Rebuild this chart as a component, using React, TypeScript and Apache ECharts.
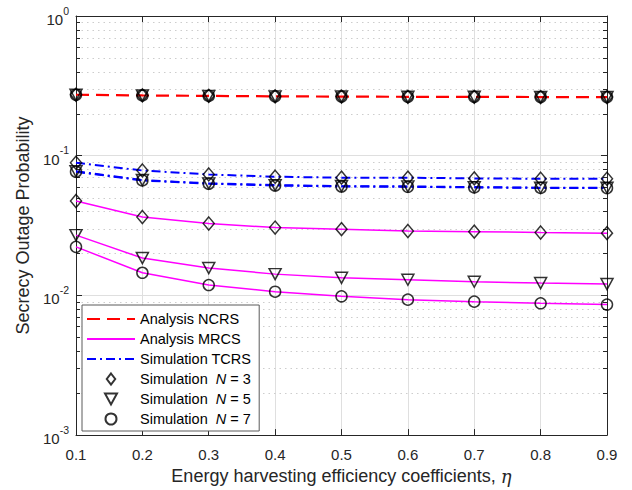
import { useEffect, useRef } from "react";
import * as echarts from "echarts";

// ---- data ----
const etaValues = [0.1, 0.2, 0.3, 0.4, 0.5, 0.6, 0.7, 0.8, 0.9];
const ncrsAnalysis = [0.273, 0.27, 0.268, 0.266, 0.265, 0.264, 0.264, 0.263, 0.263];
const mrcsN3 = [0.0474, 0.0364, 0.0327, 0.0306, 0.0298, 0.0289, 0.0286, 0.0282, 0.0279];
const mrcsN5 = [0.027, 0.0185, 0.0157, 0.0142, 0.01337, 0.01294, 0.01252, 0.01226, 0.01206];
const mrcsN7 = [0.02226, 0.01452, 0.01186, 0.01063, 0.00985, 0.00932, 0.00902, 0.00878, 0.00859];
const tcrsN3 = [0.089, 0.0784, 0.0734, 0.0707, 0.0696, 0.0696, 0.0688, 0.0684, 0.0684];
const tcrsN5 = [0.0773, 0.0669, 0.0634, 0.0616, 0.0606, 0.0603, 0.0596, 0.059, 0.059];
const tcrsN7 = [0.0768, 0.0665, 0.063, 0.0612, 0.0602, 0.0599, 0.0593, 0.0588, 0.0587];
const decades = [0.001, 0.01, 0.1];
const minorMultipliers = [2, 3, 4, 5, 6, 7, 8, 9];

const lineLegendNames = ["Analysis NCRS", "Analysis MRCS", "Simulation TCRS"];
const markerLegendNames = ["Simulation N = 3", "Simulation N = 5", "Simulation N = 7"];

const FONT = "Liberation Sans, Arial, Helvetica, sans-serif";
const AXIS_COLOR = "#262626";
const DIAMOND = "path://M5,0L10,6.5L5,13L0,6.5Z";
const TRIANGLE_DOWN = "path://M0,0L12,0L6,11Z";

export default function App() {
  const ref = useRef<HTMLDivElement>(null);

  useEffect(() => {
    if (!ref.current) return;
    const chart = echarts.init(ref.current, undefined, { renderer: "svg" });

    const minorValues: number[] = [];
    decades.forEach((d) => minorMultipliers.forEach((m) => minorValues.push(+(d * m).toPrecision(3))));

    const pts = (...arrs: number[][]) =>
      etaValues.flatMap((x, i) => arrs.map((a) => [x, a[i]]));

    const markerStyle = {
      color: "rgba(0,0,0,0)",
      borderColor: "#000",
      borderWidth: 1.5,
    };

    const lineSeries = (name: string, data: number[], color: string, width: number, type: any) => ({
      name,
      type: "line",
      data: etaValues.map((x, i) => [x, data[i]]),
      symbol: "none",
      lineStyle: { color, width, type },
      itemStyle: { color },
      z: 3,
    });

    const dashDot = [9, 4, 2, 4];

    const option: any = {
      animation: false,
      backgroundColor: "#fff",
      textStyle: { fontFamily: FONT },
      grid: { left: 76, right: 25, top: 16, bottom: 53, containLabel: false },
      legend: {
        data: [
          ...lineLegendNames.map((name) => ({ name, itemStyle: { opacity: 0 } })),
          { name: markerLegendNames[0], icon: DIAMOND },
          { name: markerLegendNames[1], icon: TRIANGLE_DOWN },
          { name: markerLegendNames[2] },
        ],
        orient: "vertical",
        left: 82,
        top: 305,
        padding: [6, 8, 4, 4],
        itemGap: 4,
        itemWidth: 48,
        itemHeight: 11,
        symbolKeepAspect: true,
        backgroundColor: "#fff",
        borderColor: "#5a5a5a",
        borderWidth: 1,
        borderRadius: 0,
        selectedMode: false,
        textStyle: {
          fontFamily: FONT,
          fontSize: 14.5,
          color: "#000",
          lineHeight: 16,
          rich: {
            i: { fontStyle: "italic", fontSize: 14.5, fontFamily: FONT, color: "#000", lineHeight: 16 },
          },
        },
        formatter: (name: string) =>
          name.startsWith("Simulation N") ? name.replace("Simulation N", "Simulation  {i|N}") : name,
      },
      xAxis: [
        {
          type: "value",
          min: 0.1,
          max: 0.9,
          interval: 0.1,
          position: "bottom",
          axisLine: { show: true, lineStyle: { color: AXIS_COLOR, width: 1 } },
          axisTick: { show: true, inside: true, length: 6, lineStyle: { color: AXIS_COLOR } },
          axisLabel: {
            margin: 12,
            fontSize: 15,
            color: AXIS_COLOR,
            fontFamily: FONT,
            formatter: (v: number) => v.toFixed(1),
          },
          splitLine: { show: true, lineStyle: { color: "#dfdfdf", width: 1 } },
          name: "Energy harvesting efficiency coefficients, {i|η}",
          nameLocation: "middle",
          nameGap: 31,
          nameTextStyle: {
            fontSize: 18,
            color: AXIS_COLOR,
            fontFamily: FONT,
            rich: {
              i: { fontStyle: "italic", fontSize: 18, fontFamily: "DejaVu Serif, serif", color: AXIS_COLOR },
            },
          },
        },
        {
          type: "value",
          min: 0.1,
          max: 0.9,
          interval: 0.1,
          position: "top",
          axisLine: { show: true, lineStyle: { color: AXIS_COLOR, width: 1 } },
          axisTick: { show: true, inside: true, length: 6, lineStyle: { color: AXIS_COLOR } },
          axisLabel: { show: false },
          splitLine: { show: false },
        },
      ],
      yAxis: [
        {
          type: "log",
          logBase: 10,
          min: 0.001,
          max: 1,
          position: "left",
          axisLine: { show: true, lineStyle: { color: AXIS_COLOR, width: 1 } },
          axisTick: { show: true, inside: true, length: 6, lineStyle: { color: AXIS_COLOR } },
          axisLabel: {
            margin: 7,
            color: AXIS_COLOR,
            formatter: (v: number) => `{b|10}{s|${Math.round(Math.log10(v))}}`,
            rich: {
              b: { fontSize: 15, fontFamily: FONT, color: AXIS_COLOR, verticalAlign: "bottom", lineHeight: 22 },
              s: { fontSize: 10.5, fontFamily: FONT, color: AXIS_COLOR, verticalAlign: "top", lineHeight: 22 },
            },
          },
          splitLine: { show: true, lineStyle: { color: "#dfdfdf", width: 1 } },
          name: "Secrecy Outage Probability",
          nameLocation: "middle",
          nameGap: 43,
          nameTextStyle: { fontSize: 18, color: AXIS_COLOR, fontFamily: FONT },
        },
        {
          type: "log",
          logBase: 10,
          min: 0.001,
          max: 1,
          position: "right",
          axisLine: { show: true, lineStyle: { color: AXIS_COLOR, width: 1 } },
          axisTick: { show: true, inside: true, length: 6, lineStyle: { color: AXIS_COLOR } },
          axisLabel: { show: false },
          splitLine: { show: false },
        },
      ],
      series: [
        {
          type: "custom",
          silent: true,
          z: 1,
          xAxisIndex: 0,
          yAxisIndex: 0,
          data: minorValues.map((v) => [etaValues[0], v]),
          encode: { x: 0, y: 1 },
          renderItem: (params: any, api: any) => {
            const cs = params.coordSys;
            const y = Math.round(api.coord([api.value(0), api.value(1)])[1]) + 0.5;
            const left = cs.x;
            const right = cs.x + cs.width;
            return {
              type: "group",
              children: [
                {
                  type: "line",
                  shape: { x1: left, y1: y, x2: right, y2: y },
                  style: { stroke: "#cdcdcd", lineWidth: 1, lineDash: [1.5, 4] },
                },
                {
                  type: "line",
                  shape: { x1: left, y1: y, x2: left + 4, y2: y },
                  style: { stroke: AXIS_COLOR, lineWidth: 1 },
                },
                {
                  type: "line",
                  shape: { x1: right - 4, y1: y, x2: right, y2: y },
                  style: { stroke: AXIS_COLOR, lineWidth: 1 },
                },
              ],
            };
          },
        },
        lineSeries("Analysis NCRS", ncrsAnalysis, "#ff0000", 2.2, [13, 7]),
        lineSeries("Analysis MRCS", mrcsN3, "#ff00ff", 1.5, "solid"),
        lineSeries("Analysis MRCS", mrcsN5, "#ff00ff", 1.5, "solid"),
        lineSeries("Analysis MRCS", mrcsN7, "#ff00ff", 1.5, "solid"),
        lineSeries("Simulation TCRS", tcrsN3, "#0000ff", 2, dashDot),
        lineSeries("Simulation TCRS", tcrsN5, "#0000ff", 2, dashDot),
        lineSeries("Simulation TCRS", tcrsN7, "#0000ff", 2, dashDot),
        {
          name: "Simulation N = 3",
          type: "scatter",
          data: pts(ncrsAnalysis, mrcsN3, tcrsN3),
          symbol: DIAMOND,
          symbolSize: [11, 13],
          itemStyle: markerStyle,
          z: 4,
        },
        {
          name: "Simulation N = 5",
          type: "scatter",
          data: pts(ncrsAnalysis, mrcsN5, tcrsN5),
          symbol: TRIANGLE_DOWN,
          symbolSize: [12, 11],
          itemStyle: markerStyle,
          z: 4,
        },
        {
          name: "Simulation N = 7",
          type: "scatter",
          data: pts(ncrsAnalysis, mrcsN7, tcrsN7),
          symbol: "circle",
          symbolSize: 11,
          itemStyle: markerStyle,
          z: 4,
        },
      ],
    };

    chart.setOption(option);
    return () => chart.dispose();
  }, []);

  return (
    <div
      ref={ref}
      style={{ position: "fixed", left: 0, top: 0, width: 632, height: 490, background: "#fff" }}
    />
  );
}
